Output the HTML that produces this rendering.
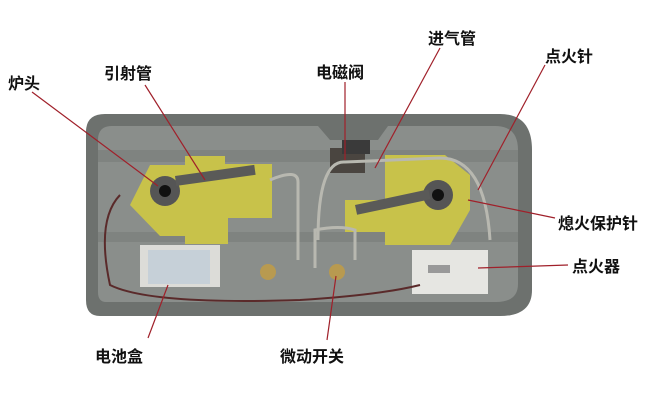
<!DOCTYPE html>
<html><head><meta charset="utf-8"><style>
html,body{margin:0;padding:0;background:#fff;}
svg{display:block}
text{font-family:"Liberation Sans","Noto Sans CJK SC",sans-serif;font-size:16px;font-weight:bold;fill:#111}
</style></head><body>
<svg width="664" height="403" viewBox="0 0 664 403">
<rect width="664" height="403" fill="#fff"/>
<!-- tray -->
<path d="M105 114 H500 Q532 114 532 150 V290 Q532 316 500 316 H100 Q86 316 86 300 V132 Q86 114 105 114Z" fill="#6d716e"/>
<path d="M112 126 H318 L330 140 H378 L388 126 H495 Q518 126 518 150 V284 Q518 302 496 302 H106 Q98 302 98 292 V140 Q98 126 112 126Z" fill="#8a8e8b"/>
<rect x="98" y="150" width="420" height="12" fill="#7f8380"/>
<rect x="98" y="232" width="420" height="10" fill="#7f8380"/>
<!-- left plate -->
<path d="M150 165 H185 V156 H225 V164 H272 V218 H228 V244 H185 V236 H160 L130 205 Z" fill="#c8c24a"/>
<!-- right plate -->
<path d="M385 155 H445 L470 175 L470 210 L450 245 H385 V232 H345 V200 H385Z" fill="#c8c24a"/>
<!-- burners -->
<circle cx="165" cy="191" r="15" fill="#555"/><circle cx="165" cy="191" r="6" fill="#111"/>
<circle cx="438" cy="195" r="15" fill="#555"/><circle cx="438" cy="195" r="6" fill="#111"/>
<rect x="175" y="176" width="80" height="10" fill="#5a5a58" transform="rotate(-8 175 176)"/>
<rect x="355" y="205" width="75" height="10" fill="#5a5a58" transform="rotate(-12 355 205)"/>
<!-- valve -->
<rect x="330" y="148" width="35" height="25" fill="#4a4540"/>
<rect x="342" y="140" width="28" height="14" fill="#3a3a3a"/>
<!-- pipes -->
<path d="M270 180 Q298 168 298 182 V260 M318 240 Q318 160 345 162 L440 158 Q485 158 490 240 M315 268 V230 Q340 225 355 230 V260" fill="none" stroke="#b8b8b0" stroke-width="3"/>
<!-- battery box -->
<rect x="140" y="245" width="80" height="42" fill="#dcdcd8"/>
<rect x="148" y="250" width="62" height="34" fill="#c6d0d8"/>
<!-- igniter -->
<rect x="412" y="250" width="76" height="44" fill="#e6e6e2"/>
<rect x="428" y="265" width="22" height="8" fill="#999"/>
<!-- switches -->
<circle cx="268" cy="272" r="8" fill="#b89a50"/><circle cx="337" cy="272" r="8" fill="#b89a50"/>
<!-- wires -->
<path d="M120 195 Q96 220 110 285 Q150 305 300 300 Q380 295 420 285" fill="none" stroke="#5a2a2a" stroke-width="2"/>
<!-- leader lines -->
<g stroke="#a0202a" stroke-width="1.2">
<line x1="32" y1="92" x2="158" y2="186"/>
<line x1="145" y1="85" x2="205" y2="180"/>
<line x1="345" y1="82" x2="345" y2="160"/>
<line x1="440" y1="48" x2="375" y2="168"/>
<line x1="545" y1="65" x2="478" y2="190"/>
<line x1="555" y1="218" x2="468" y2="200"/>
<line x1="568" y1="265" x2="478" y2="268"/>
<line x1="148" y1="338" x2="168" y2="285"/>
<line x1="327" y1="340" x2="336" y2="276"/>
</g>
<text x="8" y="89">炉头</text>
<text x="104" y="79">引射管</text>
<text x="316" y="78">电磁阀</text>
<text x="428" y="44">进气管</text>
<text x="545" y="62">点火针</text>
<text x="558" y="229">熄火保护针</text>
<text x="572" y="272">点火器</text>
<text x="95" y="362">电池盒</text>
<text x="280" y="362">微动开关</text>
</svg>
</body></html>
